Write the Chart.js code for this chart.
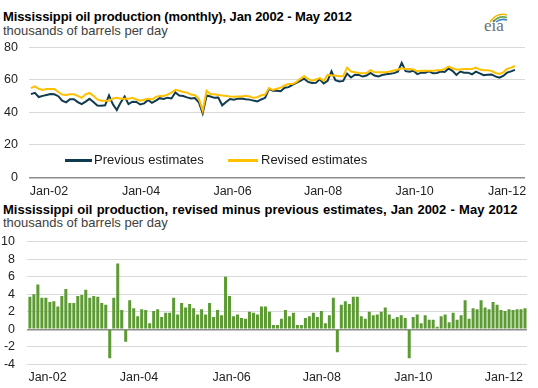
<!DOCTYPE html>
<html><head><meta charset="utf-8">
<script src="https://cdn.jsdelivr.net/npm/chart.js@4"></script>
<style>
body{margin:0;width:538px;height:388px;overflow:hidden;background:#fff;font-family:"Liberation Sans",Arial,sans-serif;position:relative}
.t{position:absolute;left:3px;font-size:13px;line-height:13px;font-weight:bold;color:#000;white-space:nowrap}
.s{position:absolute;left:3px;font-size:13px;line-height:13px;color:#404040;white-space:nowrap}
.lg{position:absolute;font-size:13px;line-height:13px;color:#1a1a1a;white-space:nowrap}
.ln{position:absolute;height:2.5px}
canvas{position:absolute;left:0}
#c1{top:39px}
#c2{top:234px}
#logo{position:absolute;left:484px;top:17px;font-family:"Liberation Serif","DejaVu Serif",serif;font-size:17px;line-height:17px;color:#6d6d6d}
#arcs{position:absolute;left:487px;top:11px}
</style></head>
<body>
<div class="t" style="top:10px;letter-spacing:-0.1px">Mississippi oil production (monthly), Jan 2002 - May 2012</div>
<div class="s" style="top:24px">thousands of barrels per day</div>
<svg id="arcs" width="22" height="12" viewBox="0 0 22 12">
<path d="M3 11 Q10 1 20 4" stroke="#f2b705" stroke-width="1.6" fill="none"/>
<path d="M6 11 Q12 4 20 6.5" stroke="#6aa84f" stroke-width="1.6" fill="none"/>
<path d="M9 11 Q14 7 20 9" stroke="#3d85c6" stroke-width="1.6" fill="none"/>
</svg>
<div id="logo">eia</div>
<canvas id="c1" width="538" height="161"></canvas>
<div class="ln" style="left:65px;top:159px;width:27px;background:#0f3a4f"></div>
<div class="lg" style="left:94px;top:153px">Previous estimates</div>
<div class="ln" style="left:228px;top:159px;width:30px;background:#ffc000"></div>
<div class="lg" style="left:261px;top:153px">Revised estimates</div>
<div class="t" style="top:203px;word-spacing:0.6px">Mississippi oil production, revised minus previous estimates, Jan 2002 - May 2012</div>
<div class="s" style="top:216px">thousands of barrels per day</div>
<canvas id="c2" width="538" height="154"></canvas>
<script>
// Month categories Jan 2002 .. May 2012 (125 months)
const months = [];
for (let y = 2002; y <= 2012; y++) {
  ["Jan","Feb","Mar","Apr","May","Jun","Jul","Aug","Sep","Oct","Nov","Dec"].forEach(m => {
    months.push(m + "-" + String(y).slice(2));
  });
}
months.length = 125;

const previous = [
51.2,52.0,49.4,50.1,50.7,51.2,51.1,49.9,47.1,46.1,
48.1,48.1,46.3,45.0,46.6,48.3,46.3,44.2,44.1,44.3,
50.4,44.9,41.4,46.1,49.7,45.0,46.5,46.4,44.8,45.5,
47.6,45.8,47.2,48.7,48.2,49.0,48.5,52.2,50.3,50.0,
49.2,48.5,48.8,46.2,39.3,50.3,49.7,48.9,49.1,44.3,
46.3,48.2,47.8,48.4,48.5,48.1,47.8,47.2,46.7,47.9,
48.9,54.4,53.2,53.3,53.0,55.1,55.5,56.9,58.1,59.3,
60.7,58.7,58.0,58.1,60.3,57.8,59.4,65.2,59.8,59.0,
59.3,63.8,61.4,63.1,63.0,62.0,62.6,64.2,62.6,62.1,
62.9,63.4,63.7,64.1,65.0,70.4,65.3,65.0,65.6,63.5,
64.4,64.4,65.2,64.0,64.2,65.1,64.8,67.0,65.5,63.0,
65.1,64.3,64.4,63.4,65.0,64.0,62.8,63.1,63.3,62.1,
61.3,62.4,64.4,65.2,66.1];

const revised = [
54.9,56.0,54.5,53.7,54.3,54.3,54.3,52.5,50.9,50.7,
51.1,51.1,50.1,48.9,51.1,51.9,50.1,47.9,47.1,47.1,
47.1,48.5,48.9,48.3,48.3,48.3,48.9,47.9,47.1,47.7,
48.3,47.9,49.5,50.1,50.1,50.9,52.1,53.9,53.3,52.5,
52.1,50.9,50.5,48.5,41.0,53.3,51.1,51.1,50.7,50.3,
50.1,49.7,49.5,49.7,49.7,50.1,49.7,48.9,49.3,50.5,
50.9,54.9,53.7,54.5,55.2,56.6,57.4,57.4,58.6,60.6,
62.2,60.6,59.4,60.2,61.0,59.4,63.0,62.6,62.6,62.2,
62.2,67.5,65.1,64.6,64.2,64.0,64.2,65.9,64.6,64.6,
64.6,64.6,65.1,65.7,66.3,67.1,66.7,66.7,66.3,65.1,
65.5,65.5,65.5,65.5,65.9,65.9,66.7,68.1,67.1,66.3,
66.3,66.7,66.7,66.7,67.5,66.3,65.9,65.9,65.5,64.2,
63.6,64.6,66.7,67.5,68.5];

const difference = [
3.7,4.0,5.1,3.6,3.6,3.1,3.2,2.6,3.8,4.6,
3.0,3.0,3.8,3.9,4.5,3.6,3.8,3.7,3.0,2.8,
-3.3,3.6,7.5,2.2,-1.4,3.3,2.4,1.5,2.3,2.2,
0.7,2.1,2.3,1.4,1.9,1.9,3.6,1.7,3.0,2.5,
2.9,2.4,1.7,2.3,1.7,3.0,1.4,2.2,1.6,6.0,
3.8,1.5,1.7,1.3,1.2,2.0,1.9,1.7,2.6,2.6,
2.0,0.5,0.5,1.2,2.2,1.5,1.9,0.5,0.5,1.3,
1.5,1.9,1.4,2.1,0.7,1.6,3.6,-2.6,2.8,3.2,
2.9,3.7,3.7,1.5,1.2,2.0,1.6,1.7,2.0,2.5,
1.7,1.2,1.4,1.6,1.3,-3.3,1.4,1.7,0.7,1.6,
1.1,1.1,0.3,1.5,1.7,0.8,1.9,1.1,1.6,3.3,
1.2,2.4,2.3,3.3,2.5,2.3,3.1,2.8,2.2,2.1,
2.3,2.2,2.3,2.3,2.4];

const xTickLabels = ["Jan-02","Jan-04","Jan-06","Jan-08","Jan-10","Jan-12"];
const topYTicks = [0,20,40,60,80];
const bottomYTicks = [-4,-2,0,2,4,6,8,10];

// tick placement (in month-index units) used by the axes
const topTickAt = [4.62,28.2,51.64,74.83,98.32,121.97];
const botTickAt = [4.41,27.32,50.54,73.1,96.02,118.73];

Chart.defaults.font.family = '"Liberation Sans", Arial, sans-serif';
Chart.defaults.color = '#222';
const tickFont = {size: 12.5};

const pts = arr => arr.map((v, i) => ({x: i, y: v}));
const noPadY = (w) => s => { s.width = w; s.paddingTop = 0; s.paddingBottom = 0; };
const noPadX = (h) => s => { s.height = h; s.paddingLeft = 0; s.paddingRight = 0; };

new Chart(document.getElementById('c1'), {
  type: 'line',
  data: {
    labels: months,
    datasets: [
      {label: 'Previous estimates', data: pts(previous), borderColor: '#0f3a4f', borderWidth: 2, pointRadius: 0, tension: 0, order: 1},
      {label: 'Revised estimates', data: pts(revised), borderColor: '#ffc000', borderWidth: 2, pointRadius: 0, tension: 0, order: 0}
    ]
  },
  options: {
    responsive: false, animation: false,
    layout: {padding: {left: 0, right: 13, top: 8.3, bottom: 0}},
    plugins: {legend: {display: false}, tooltip: {enabled: false}},
    scales: {
      x: {
        type: 'linear', min: -0.5, max: 126.58,
        afterBuildTicks: s => { s.ticks = topTickAt.map(v => ({value: v})); },
        afterFit: noPadX(22.7),
        ticks: {callback: (v, i) => xTickLabels[i], font: tickFont, padding: 6.5, maxRotation: 0, autoSkip: false},
        grid: {display: false, drawTicks: false}, border: {display: false}
      },
      y: {
        min: 0, max: 80,
        afterBuildTicks: s => { s.ticks = topYTicks.map(v => ({value: v})); },
        afterFit: noPadY(29),
        ticks: {font: tickFont, padding: 11, autoSkip: false},
        grid: {color: c => c.tick.value === 0 ? '#8c8c8c' : '#d9d9d9', lineWidth: c => c.tick.value === 0 ? 1.5 : 1, drawTicks: false},
        border: {display: false}
      }
    }
  }
});

new Chart(document.getElementById('c2'), {
  type: 'bar',
  data: {
    labels: months,
    datasets: [
      {label: 'Revised minus previous', data: pts(difference), backgroundColor: '#5c9a33', barPercentage: 0.75, categoryPercentage: 1}
    ]
  },
  options: {
    responsive: false, animation: false,
    layout: {padding: {left: 0, right: 11, top: 7.5, bottom: 0}},
    plugins: {legend: {display: false}, tooltip: {enabled: false}},
    scales: {
      x: {
        type: 'linear', min: -0.8, max: 124.5, offset: false,
        afterBuildTicks: s => { s.ticks = botTickAt.map(v => ({value: v})); },
        afterFit: noPadX(23.5),
        ticks: {callback: (v, i) => xTickLabels[i], font: tickFont, padding: 5.5, maxRotation: 0, autoSkip: false},
        grid: {display: false, drawTicks: false}, border: {display: false}
      },
      y: {
        min: -4, max: 10,
        afterBuildTicks: s => { s.ticks = bottomYTicks.map(v => ({value: v})); },
        afterFit: noPadY(26.7),
        ticks: {font: tickFont, padding: 11.7, autoSkip: false},
        grid: {color: c => c.tick.value === 0 ? '#8c8c8c' : '#d9d9d9', lineWidth: c => c.tick.value === 0 ? 1.5 : 1, drawTicks: false},
        border: {display: false}
      }
    }
  }
});
</script>
</body></html>
